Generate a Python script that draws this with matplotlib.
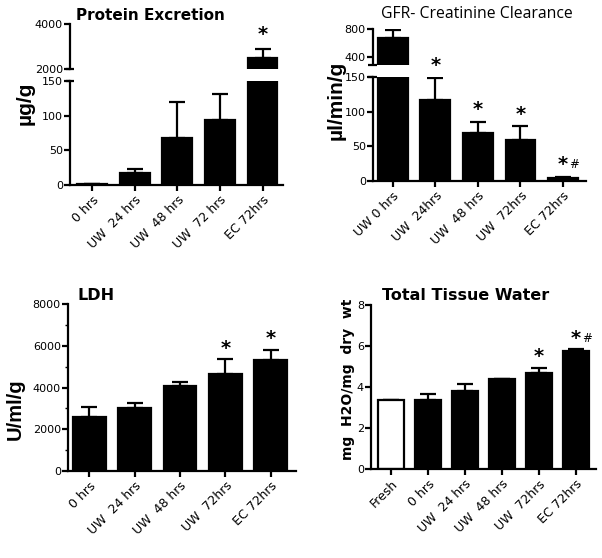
import matplotlib
matplotlib.use('Agg')
import matplotlib.pyplot as plt
from matplotlib.ticker import MultipleLocator, FixedLocator
import numpy as np

W, H = 602, 558

# ---- data ----
protein_labels = ['0 hrs', 'UW  24 hrs', 'UW  48 hrs', 'UW  72 hrs', 'EC 72hrs']
protein_mean = [2, 18, 68, 94, 2480]
protein_err = [0, 5, 51, 37, 400]
protein_marks = ['', '', '', '', '*']

gfr_labels = ['UW 0 hrs', 'UW  24hrs', 'UW  48 hrs', 'UW  72hrs', 'EC 72hrs']
gfr_mean = [662, 117, 70, 60, 5]
gfr_err = [124, 32, 15, 19, 1]
gfr_marks = ['', '*', '*', '*', '*#']

ldh_labels = ['0 hrs', 'UW  24 hrs', 'UW  48 hrs', 'UW  72hrs', 'EC 72hrs']
ldh_mean = [2610, 3010, 4080, 4640, 5310]
ldh_err = [460, 270, 210, 720, 510]
ldh_marks = ['', '', '', '*', '*']

ttw_labels = ['Fresh', '0 hrs', 'UW  24 hrs', 'UW  48 hrs', 'UW  72hrs', 'EC 72hrs']
ttw_mean = [3.38, 3.38, 3.81, 4.38, 4.68, 5.78]
ttw_err = [0, 0.27, 0.33, 0.04, 0.27, 0.06]
ttw_marks = ['', '', '', '', '*', '*#']
ttw_fill = ['white', 'black', 'black', 'black', 'black', 'black']

plt.rcParams['font.family'] = 'DejaVu Sans'
fig = plt.figure(figsize=(W / 100, H / 100), dpi=100)
fig.patch.set_facecolor('white')

LW = 1.6
ytick_fs = 8
xtick_fs = 9


def px_axes(x0, y0, x1, y1):
    return fig.add_axes([x0 / W, 1 - y1 / H, (x1 - x0) / W, (y1 - y0) / H])


def style(ax, bottom=True):
    for s in ['top', 'right']:
        ax.spines[s].set_visible(False)
    ax.spines['left'].set_linewidth(LW)
    if bottom:
        ax.spines['bottom'].set_linewidth(LW)
    else:
        ax.spines['bottom'].set_visible(False)
        ax.tick_params(axis='x', bottom=False, labelbottom=False)
    ax.tick_params(axis='y', direction='out', length=4, width=LW, labelsize=ytick_fs, pad=1)
    ax.tick_params(axis='x', direction='out', length=4, width=LW, labelsize=xtick_fs, pad=2)
    ax.set_facecolor('none')


def bars(ax, mean, err, width=0.7, fills=None):
    x = np.arange(len(mean))
    fills = fills or ['black'] * len(mean)
    ax.bar(x, mean, width=width, color=fills, edgecolor='black', linewidth=LW, zorder=2)
    up = np.array(err)
    ax.errorbar(x, mean, yerr=[np.zeros_like(up), up], fmt='none', ecolor='black',
                elinewidth=LW, capsize=6, capthick=LW, zorder=1)


def marks(ax, mean, err, labels, ofs=3):
    for i, m in enumerate(labels):
        if not m:
            continue
        top = mean[i] + err[i]
        if m == '*#':
            ax.annotate('*', (i, top), xytext=(0, ofs), textcoords='offset points',
                        ha='center', va='bottom', fontsize=14, fontweight='bold',
                        annotation_clip=False)
            ax.annotate('#', (i, top), xytext=(8, ofs + 2), textcoords='offset points',
                        ha='center', va='bottom', fontsize=8.5, annotation_clip=False)
        else:
            ax.annotate('*', (i, top), xytext=(0, ofs), textcoords='offset points',
                        ha='center', va='bottom', fontsize=14, fontweight='bold',
                        annotation_clip=False)


def xlabels(ax, labels):
    ax.set_xticks(np.arange(len(labels)))
    ax.set_xticklabels(labels, rotation=45, ha='right', rotation_mode='anchor')


def break_mark(ax, y):
    ax.plot([-0.02, 0.02], [y, y], color='black', lw=LW, transform=ax.transAxes,
            clip_on=False, solid_capstyle='butt')


# ---- Protein excretion (broken axis) ----
xl = (-0.52, 4.48)
p_lo = px_axes(70, 81, 283, 185)
p_hi = px_axes(70, 24, 283, 69)
for ax in (p_lo, p_hi):
    bars(ax, protein_mean, protein_err, width=0.7)
    ax.set_xlim(*xl)
p_lo.set_ylim(0, 150)
p_lo.yaxis.set_major_locator(MultipleLocator(50))
p_hi.set_ylim(2000, 4000)
p_hi.yaxis.set_major_locator(FixedLocator([2000, 4000]))
style(p_lo)
style(p_hi, bottom=False)
xlabels(p_lo, protein_labels)
marks(p_hi, protein_mean, protein_err, protein_marks, ofs=4)
break_mark(p_hi, 0)
break_mark(p_lo, 1)
fig.text(150 / W, 1 - 16 / H, 'Protein Excretion', ha='center', va='center',
         fontsize=11, fontweight='bold')
fig.text(25 / W, 1 - 103 / H, '\u00b5g/g', rotation=90, ha='center', va='center',
         fontsize=15, fontweight='bold', family='Liberation Sans')

# ---- GFR (broken axis) ----
xl = (-0.47, 4.54)
g_lo = px_axes(372.7, 77.3, 586, 181)
g_hi = px_axes(372.7, 28.7, 586, 64.5)
for ax in (g_lo, g_hi):
    bars(ax, gfr_mean, gfr_err, width=0.7)
    ax.set_xlim(*xl)
g_lo.set_ylim(0, 150)
g_lo.yaxis.set_major_locator(MultipleLocator(50))
g_hi.set_ylim(290, 800)
g_hi.yaxis.set_major_locator(FixedLocator([400, 800]))
style(g_lo)
style(g_hi, bottom=False)
xlabels(g_lo, gfr_labels)
marks(g_lo, gfr_mean, gfr_err, gfr_marks, ofs=2)
break_mark(g_hi, 0)
break_mark(g_lo, 1)
fig.text(477 / W, 1 - 14 / H, 'GFR- Creatinine Clearance', ha='center', va='center',
         fontsize=11.3, family='Open Sans')
fig.text(336 / W, 1 - 100 / H, '\u00b5l/min/g', rotation=90, ha='center', va='center',
         fontsize=15, fontweight='bold', family='Liberation Sans')

# ---- LDH ----
l_ax = px_axes(67.7, 304.3, 296, 471)
bars(l_ax, ldh_mean, ldh_err, width=0.72)
l_ax.set_xlim(-0.48, 4.56)
l_ax.set_ylim(0, 8000)
l_ax.yaxis.set_major_locator(MultipleLocator(2000))
l_ax.yaxis.set_minor_locator(MultipleLocator(1000))
style(l_ax)
l_ax.tick_params(axis='y', which='minor', length=2, width=1)
xlabels(l_ax, ldh_labels)
marks(l_ax, ldh_mean, ldh_err, ldh_marks, ofs=1)
fig.text(96 / W, 1 - 295 / H, 'LDH', ha='center', va='center',
         fontsize=11.5, fontweight='bold')
fig.text(15 / W, 1 - 409 / H, 'U/ml/g', rotation=90, ha='center', va='center',
         fontsize=14.5, fontweight='bold', family='Liberation Sans')

# ---- Total tissue water ----
t_ax = px_axes(371, 305, 596, 469.3)
bars(t_ax, ttw_mean, ttw_err, width=0.7, fills=ttw_fill)
t_ax.set_xlim(-0.54, 5.54)
t_ax.set_ylim(0, 8)
t_ax.yaxis.set_major_locator(MultipleLocator(2))
style(t_ax)
xlabels(t_ax, ttw_labels)
marks(t_ax, ttw_mean, ttw_err, ttw_marks, ofs=1)
fig.text(466 / W, 1 - 295 / H, 'Total Tissue Water', ha='center', va='center',
         fontsize=11.5, fontweight='bold')
fig.text(348 / W, 1 - 379 / H, 'mg  H2O/mg  dry  wt', rotation=90, ha='center', va='center',
         fontsize=10, fontweight='bold', family='DejaVu Sans')

fig.savefig('out.png', dpi=100, facecolor='white')
